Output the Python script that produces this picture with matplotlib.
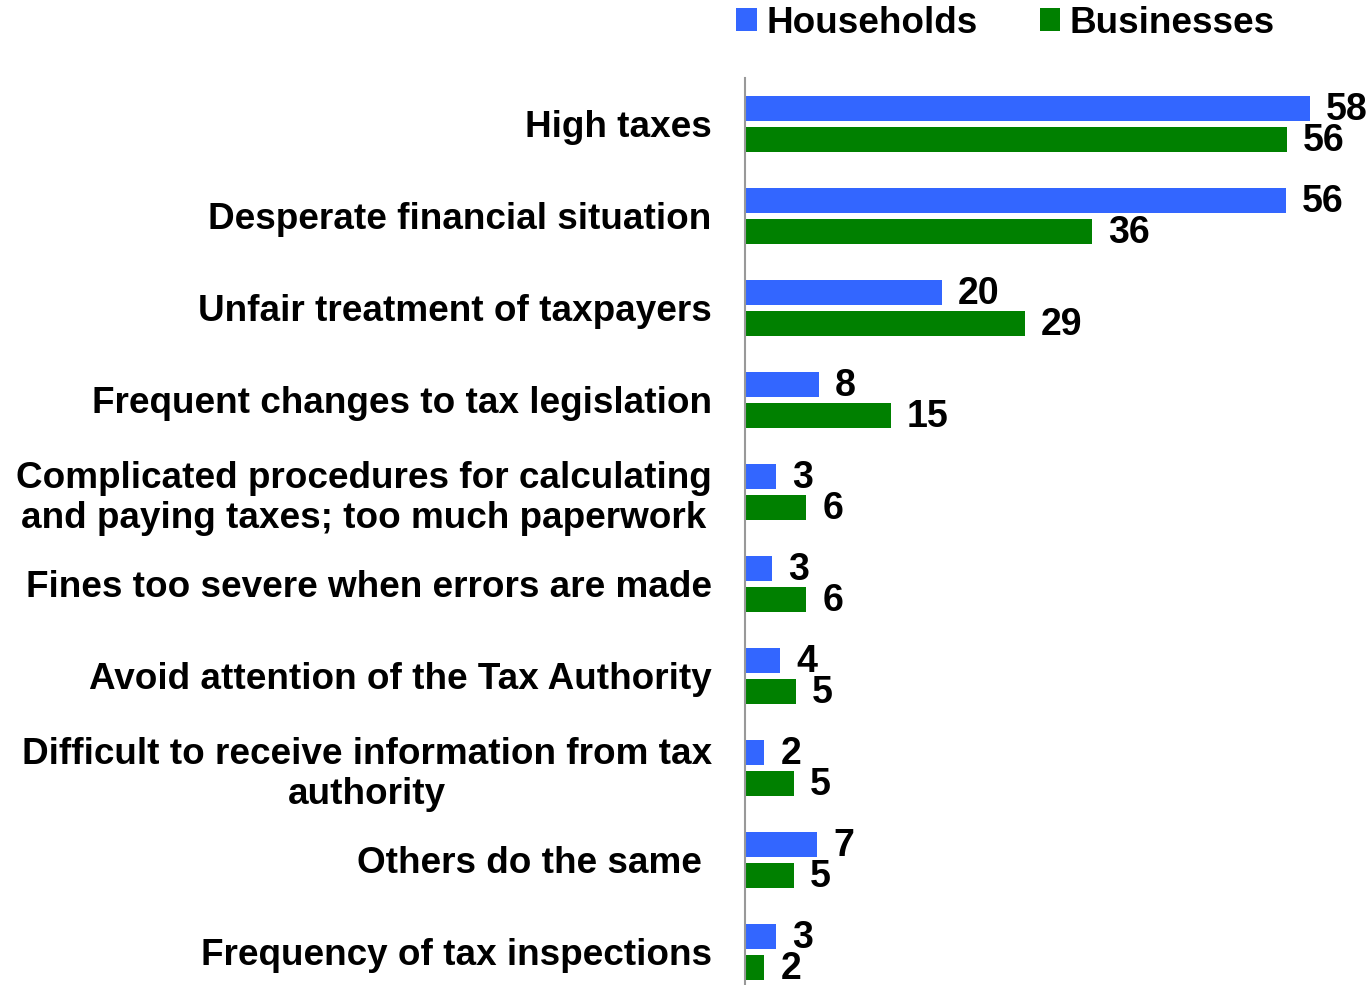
import numpy as np
import matplotlib.pyplot as plt

plt.rcParams['font.family'] = ['Liberation Sans', 'DejaVu Sans']
plt.rcParams['font.weight'] = 'bold'

# reasons for tax evasion, share of respondents (%)
categories = ['High taxes',
              'Desperate financial situation',
              'Unfair treatment of taxpayers',
              'Frequent changes to tax legislation',
              'Complicated procedures for calculating\nand paying taxes; too much paperwork',
              'Fines too severe when errors are made',
              'Avoid attention of the Tax Authority',
              'Difficult to receive information from tax\nauthority',
              'Others do the same ',
              'Frequency of tax inspections']
households = [58.0, 55.5, 20.2, 7.6, 3.2, 2.8, 3.6, 2.0, 7.4, 3.2]
businesses = [55.6, 35.6, 28.7, 15.0, 6.3, 6.3, 5.2, 5.0, 5.0, 2.0]

blue = '#3366FF'
green = '#008000'

fig = plt.figure(figsize=(13.71, 9.85), dpi=100)
ax = fig.add_axes([745/1371, (985-998)/985, (1371-745)/1371, 920/985])

y = np.arange(len(categories))
h = 0.27
off = 0.168
b1 = ax.barh(y - off, households, height=h, color=blue, label='Households')
b2 = ax.barh(y + off, businesses, height=h, color=green, label='Businesses')

for bars, vals in [(b1, households), (b2, businesses)]:
    for bar, v in zip(bars, vals):
        ax.annotate('{:.0f}'.format(v), (bar.get_width(), bar.get_y() + bar.get_height()/2),
                    xytext=(11.5, -1), textcoords='offset points',
                    ha='left', va='center', fontsize=27, fontweight='bold')

ax.set_xlim(0, 626/9.74)
ax.set_ylim(len(categories) - 0.5, -0.5)
ax.set_yticks(y)
ax.set_yticklabels(categories, fontsize=26.6, fontweight='bold',
                   multialignment='center', linespacing=1.17)
ax.tick_params(axis='y', length=0, pad=24)
ax.set_xticks([])
for s in ['top', 'right', 'bottom']:
    ax.spines[s].set_visible(False)
ax.spines['left'].set_color('#999999')
ax.spines['left'].set_linewidth(1.5)

fig.legend(handles=[b1, b2], loc='upper left', bbox_to_anchor=(718/1371, 1.013),
           ncol=2, frameon=False, prop={'weight': 'bold', 'size': 26.6},
           handlelength=0.55, handleheight=0.55, handletextpad=0.25, columnspacing=1.7,
           borderaxespad=0.1)

fig.savefig('out.png', dpi=100)
